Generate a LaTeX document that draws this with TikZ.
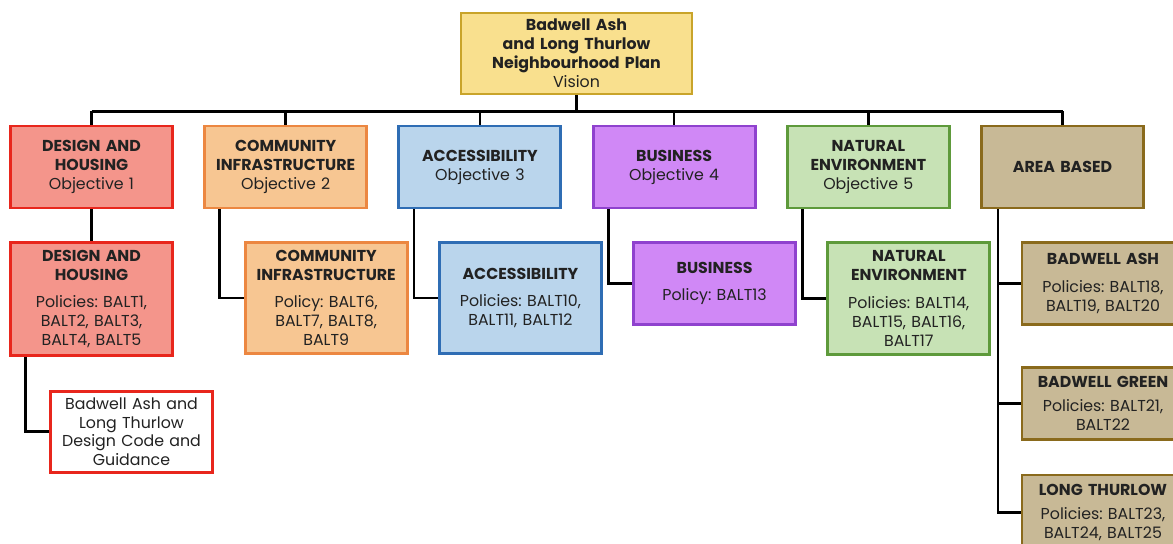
\documentclass[tikz,border=0pt]{standalone}
\usepackage{fontspec}
\setmainfont{Poppins}
\usetikzlibrary{positioning}

\definecolor{visfill}{HTML}{F9E08E}
\definecolor{visline}{HTML}{C9A42A}
\definecolor{desfill}{HTML}{F4958B}
\definecolor{desline}{HTML}{E8261C}
\definecolor{comfill}{HTML}{F7C692}
\definecolor{comline}{HTML}{EC8741}
\definecolor{accfill}{HTML}{BAD5EC}
\definecolor{accline}{HTML}{2F6DB4}
\definecolor{busfill}{HTML}{D088F6}
\definecolor{busline}{HTML}{8F42CE}
\definecolor{natfill}{HTML}{C7E2B5}
\definecolor{natline}{HTML}{5E9A3B}
\definecolor{arefill}{HTML}{C8B996}
\definecolor{areline}{HTML}{8A6A1C}
\definecolor{txt}{HTML}{222222}

\tikzset{
  box/.style={draw, line width=1.6pt, align=center, text=txt,
    minimum width=3.24cm, text width=3.15cm, inner sep=1pt,
    font=\fontsize{9}{10.8}\selectfont\frenchspacing},
  objbox/.style={box, minimum height=1.64cm},
  link/.style={line width=1.5pt, black},
}

\begin{document}
\begin{tikzpicture}[node distance=3.884cm, on grid]
    \useasboundingbox (0,0) rectangle (23.46,-10.88);
    % vision
    \node[box, fill=visfill, draw=visline, minimum width=4.62cm, text width=4.4cm, minimum height=1.62cm] (vis) at (11.53,-1.07)
      {\textbf{Badwell Ash\\and Long Thurlow\\Neighbourhood Plan}\\Vision};
    % objectives
    \node[objbox, fill=desfill, draw=desline] (dobj) at (1.83,-3.34) {\textbf{DESIGN AND\\HOUSING}\\Objective 1};
    \node[objbox, fill=comfill, draw=comline] (cobj) [right=of dobj] {\textbf{COMMUNITY\\INFRASTRUCTURE}\\Objective 2};
    \node[objbox, fill=accfill, draw=accline] (aobj) [right=of cobj] {\textbf{ACCESSIBILITY}\\Objective 3};
    \node[objbox, fill=busfill, draw=busline] (bobj) [right=of aobj] {\textbf{BUSINESS}\\Objective 4};
    \node[objbox, fill=natfill, draw=natline] (nobj) [right=of bobj] {\textbf{NATURAL\\ENVIRONMENT}\\Objective 5};
    \node[objbox, fill=arefill, draw=areline] (robj) [right=of nobj] {\textbf{AREA BASED}};
    % policies
    \node[box, fill=desfill, draw=desline, minimum height=2.26cm] (dpol) [below=1.48cm of dobj, anchor=north]
      {\textbf{DESIGN AND\\HOUSING}\\[5pt]Policies: BALT1,\\BALT2, BALT3,\\BALT4, BALT5};
    \node[box, fill=white, draw=desline, minimum height=1.62cm] (dcode) [below right=0.66cm and 0.8cm of dpol.south, anchor=north]
      {Badwell Ash and\\Long Thurlow\\Design Code and\\Guidance};
    \node[box, fill=comfill, draw=comline, minimum height=2.22cm] (cpol) [below right=1.48cm and 0.81cm of cobj, anchor=north]
      {\textbf{COMMUNITY\\INFRASTRUCTURE}\\[5pt]Policy: BALT6,\\BALT7, BALT8,\\BALT9};
    \node[box, fill=accfill, draw=accline, minimum height=2.22cm] (apol) [below right=1.48cm and 0.81cm of aobj, anchor=north]
      {\textbf{ACCESSIBILITY}\\[5pt]Policies: BALT10,\\BALT11, BALT12};
    \node[box, fill=busfill, draw=busline, minimum height=1.64cm] (bpol) [below right=1.48cm and 0.81cm of bobj, anchor=north]
      {\textbf{BUSINESS}\\[5pt]Policy: BALT13};
    \node[box, fill=natfill, draw=natline, minimum height=2.24cm] (npol) [below right=1.48cm and 0.81cm of nobj, anchor=north]
      {\textbf{NATURAL\\ENVIRONMENT}\\[5pt]Policies: BALT14,\\BALT15, BALT16,\\BALT17};
    \node[box, fill=arefill, draw=areline, minimum height=1.64cm] (ash) [below right=1.48cm and 0.81cm of robj, anchor=north]
      {\textbf{BADWELL ASH}\\[5pt]Policies: BALT18,\\BALT19, BALT20};
    \node[box, fill=arefill, draw=areline, minimum height=1.44cm] (green) [below=0.8cm of ash.south, anchor=north]
      {\textbf{BADWELL GREEN}\\[3pt]Policies: BALT21,\\BALT22};
    \node[box, fill=arefill, draw=areline, minimum height=1.5cm] (thurlow) [below=0.66cm of green.south, anchor=north]
      {\textbf{LONG THURLOW}\\[3pt]Policies: BALT23,\\BALT24, BALT25};
    % connectors
    \coordinate[below=0.32cm of vis.south] (bus);
    \draw[link] (vis.south) -- (bus);
    \draw[link] (bus -| dobj.north) -- (bus -| robj.north);
    \foreach \n in {dobj,cobj,aobj,bobj,nobj,robj}
      \draw[link] (bus -| \n.north) -- (\n.north);
    \draw[link] (dobj.south) -- (dpol.north);
    \draw[link] ([xshift=0.33cm]dpol.south west) |- (dcode.west);
    \draw[link] ([xshift=0.33cm]cobj.south west) |- (cpol.west);
    \draw[link] ([xshift=0.33cm]aobj.south west) |- (apol.west);
    \draw[link] ([xshift=0.33cm]bobj.south west) |- (bpol.west);
    \draw[link] ([xshift=0.33cm]nobj.south west) |- (npol.west);
    \coordinate (spine) at ([xshift=0.36cm]robj.south west);
    \draw[link] (spine) |- (thurlow.west);
    \draw[link] (spine |- ash.west) -- (ash.west);
    \draw[link] (spine |- green.west) -- (green.west);
\end{tikzpicture}
\end{document}
